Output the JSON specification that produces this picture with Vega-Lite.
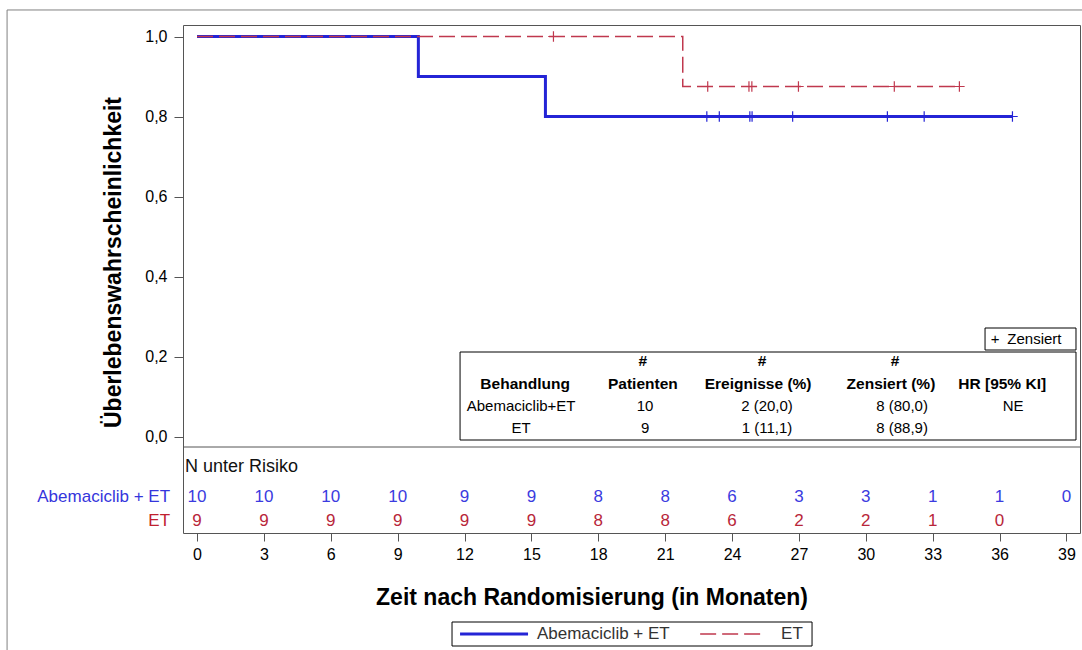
{
  "$schema": "https://vega.github.io/schema/vega-lite/v6.json",
  "width": 897,
  "height": 508,
  "autosize": {"type": "none"},
  "padding": {"left": 183, "top": 25, "right": 2, "bottom": 117},
  "background": "white",
  "config": {
    "font": "Liberation Sans",
    "view": {"stroke": "#555555", "strokeWidth": 1}
  },
  "data": {"values": [{}]},
  "datasets": {
    "km": [
      {"group": "Abemaciclib + ET", "month": 0, "surv": 1.0},
      {"group": "Abemaciclib + ET", "month": 9.93, "surv": 0.9},
      {"group": "Abemaciclib + ET", "month": 15.63, "surv": 0.8},
      {"group": "Abemaciclib + ET", "month": 36.6, "surv": 0.8},
      {"group": "ET", "month": 0, "surv": 1.0},
      {"group": "ET", "month": 21.79, "surv": 0.875},
      {"group": "ET", "month": 34.2, "surv": 0.875}
    ],
    "censor": [
      {"group": "Abemaciclib + ET", "month": 22.87, "surv": 0.8},
      {"group": "Abemaciclib + ET", "month": 23.43, "surv": 0.8},
      {"group": "Abemaciclib + ET", "month": 24.8, "surv": 0.8},
      {"group": "Abemaciclib + ET", "month": 24.9, "surv": 0.8},
      {"group": "Abemaciclib + ET", "month": 26.72, "surv": 0.8},
      {"group": "Abemaciclib + ET", "month": 30.97, "surv": 0.8},
      {"group": "Abemaciclib + ET", "month": 32.62, "surv": 0.8},
      {"group": "Abemaciclib + ET", "month": 36.58, "surv": 0.8},
      {"group": "ET", "month": 15.99, "surv": 1.0},
      {"group": "ET", "month": 22.91, "surv": 0.875},
      {"group": "ET", "month": 24.76, "surv": 0.875},
      {"group": "ET", "month": 24.89, "surv": 0.875},
      {"group": "ET", "month": 26.98, "surv": 0.875},
      {"group": "ET", "month": 31.28, "surv": 0.875},
      {"group": "ET", "month": 34.2, "surv": 0.875}
    ],
    "risk": [
      {"group": "Abemaciclib + ET", "month": 0, "n": "10"},
      {"group": "Abemaciclib + ET", "month": 3, "n": "10"},
      {"group": "Abemaciclib + ET", "month": 6, "n": "10"},
      {"group": "Abemaciclib + ET", "month": 9, "n": "10"},
      {"group": "Abemaciclib + ET", "month": 12, "n": "9"},
      {"group": "Abemaciclib + ET", "month": 15, "n": "9"},
      {"group": "Abemaciclib + ET", "month": 18, "n": "8"},
      {"group": "Abemaciclib + ET", "month": 21, "n": "8"},
      {"group": "Abemaciclib + ET", "month": 24, "n": "6"},
      {"group": "Abemaciclib + ET", "month": 27, "n": "3"},
      {"group": "Abemaciclib + ET", "month": 30, "n": "3"},
      {"group": "Abemaciclib + ET", "month": 33, "n": "1"},
      {"group": "Abemaciclib + ET", "month": 36, "n": "1"},
      {"group": "Abemaciclib + ET", "month": 39, "n": "0"},
      {"group": "ET", "month": 0, "n": "9"},
      {"group": "ET", "month": 3, "n": "9"},
      {"group": "ET", "month": 6, "n": "9"},
      {"group": "ET", "month": 9, "n": "9"},
      {"group": "ET", "month": 12, "n": "9"},
      {"group": "ET", "month": 15, "n": "9"},
      {"group": "ET", "month": 18, "n": "8"},
      {"group": "ET", "month": 21, "n": "8"},
      {"group": "ET", "month": 24, "n": "6"},
      {"group": "ET", "month": 27, "n": "2"},
      {"group": "ET", "month": 30, "n": "2"},
      {"group": "ET", "month": 33, "n": "1"},
      {"group": "ET", "month": 36, "n": "0"}
    ],
    "stats": [
      {"group": "Abemaciclib+ET", "patients": "10", "events": "2 (20,0)", "censored": "8 (80,0)", "hr": "NE"},
      {"group": "ET", "patients": "9", "events": "1 (11,1)", "censored": "8 (88,9)", "hr": ""}
    ]
  },
  "layer": [
    {
      "mark": {"type": "rect", "filled": false, "color": "#808080", "strokeWidth": 1},
      "encoding": {
        "x": {
          "datum": -8.52, "type": "quantitative",
          "scale": {"domain": [-0.628, 39.61], "nice": false, "zero": false},
          "axis": {
            "values": [0, 3, 6, 9, 12, 15, 18, 21, 24, 27, 30, 33, 36, 39],
            "title": "Zeit nach Randomisierung (in Monaten)",
            "grid": false, "domain": false,
            "tickSize": 8, "tickColor": "#555555",
            "labelFontSize": 16, "labelColor": "#000000", "labelPadding": 5,
            "titleFontSize": 23, "titleFontWeight": "bold", "titleColor": "#000000",
            "titleX": 408.5, "titleY": 64, "titleBaseline": "middle", "titleAlign": "center"
          }
        },
        "x2": {"datum": 41.5},
        "y": {
          "datum": 1.0663, "type": "quantitative",
          "scale": {"domain": [-0.24125, 1.02875], "nice": false, "zero": false},
          "axis": {
            "values": [0, 0.2, 0.4, 0.6, 0.8, 1],
            "labelExpr": "replace(format(datum.value, '.1f'), '.', ',')",
            "title": "Überlebenswahrscheinlichkeit",
            "grid": false, "domain": false,
            "tickSize": 9, "tickColor": "#555555",
            "labelFontSize": 16, "labelColor": "#000000", "labelPadding": 7,
            "titleFontSize": 23, "titleFontWeight": "bold", "titleColor": "#000000",
            "titleX": -70, "titleY": 237, "titleBaseline": "middle", "titleAlign": "center", "titleAngle": 270
          }
        },
        "y2": {"datum": -0.75}
      }
    },
    {
      "mark": {"type": "rule", "color": "#555555", "strokeWidth": 1},
      "encoding": {"y": {"datum": -0.02625, "type": "quantitative"}}
    },
    {
      "data": {"name": "km"},
      "transform": [{"filter": "datum.group === 'Abemaciclib + ET'"}],
      "mark": {"type": "line", "interpolate": "step-after", "color": "#2424d6", "strokeWidth": 3},
      "encoding": {
        "x": {"field": "month", "type": "quantitative"},
        "y": {"field": "surv", "type": "quantitative"}
      }
    },
    {
      "data": {"name": "km"},
      "transform": [{"filter": "datum.group === 'ET'"}],
      "mark": {"type": "line", "interpolate": "step-after", "color": "#c0384e", "strokeWidth": 1.5, "strokeDash": [16, 6]},
      "encoding": {
        "x": {"field": "month", "type": "quantitative"},
        "y": {"field": "surv", "type": "quantitative"}
      }
    },
    {
      "data": {"name": "censor"},
      "transform": [{"filter": "datum.group === 'Abemaciclib + ET'"}],
      "mark": {"type": "point", "shape": "M-1,0L1,0M0,-1L0,1", "filled": false, "color": "#2424d6", "size": 110, "strokeWidth": 1.2, "opacity": 1},
      "encoding": {
        "x": {"field": "month", "type": "quantitative"},
        "y": {"field": "surv", "type": "quantitative"}
      }
    },
    {
      "data": {"name": "censor"},
      "transform": [{"filter": "datum.group === 'ET'"}],
      "mark": {"type": "point", "shape": "M-1,0L1,0M0,-1L0,1", "filled": false, "color": "#c0384e", "size": 110, "strokeWidth": 1.2, "opacity": 1},
      "encoding": {
        "x": {"field": "month", "type": "quantitative"},
        "y": {"field": "surv", "type": "quantitative"}
      }
    },
    {
      "mark": {"type": "text", "text": "N unter Risiko", "fontSize": 18, "color": "#111111", "align": "left", "baseline": "middle"},
      "encoding": {"x": {"datum": -0.54}, "y": {"datum": -0.07625}}
    },
    {
      "data": {"name": "risk"},
      "transform": [{"filter": "datum.group === 'Abemaciclib + ET'"}],
      "mark": {"type": "text", "fontSize": 17, "color": "#3b3be0", "align": "center", "baseline": "middle"},
      "encoding": {
        "x": {"field": "month", "type": "quantitative"},
        "y": {"datum": -0.15125},
        "text": {"field": "n", "type": "nominal"}
      }
    },
    {
      "data": {"name": "risk"},
      "transform": [{"filter": "datum.group === 'ET'"}],
      "mark": {"type": "text", "fontSize": 17, "color": "#b8263a", "align": "center", "baseline": "middle"},
      "encoding": {
        "x": {"field": "month", "type": "quantitative"},
        "y": {"datum": -0.21125},
        "text": {"field": "n", "type": "nominal"}
      }
    },
    {
      "mark": {"type": "text", "text": "Abemaciclib + ET", "fontSize": 17, "color": "#3535dc", "align": "right", "baseline": "middle"},
      "encoding": {"x": {"datum": -1.21}, "y": {"datum": -0.15125}}
    },
    {
      "mark": {"type": "text", "text": "ET", "fontSize": 17, "color": "#c0202e", "align": "right", "baseline": "middle"},
      "encoding": {"x": {"datum": -1.21}, "y": {"datum": -0.21125}}
    },
    {
      "mark": {"type": "rect", "filled": false, "color": "#000000", "strokeWidth": 1},
      "encoding": {"x": {"datum": 11.8}, "x2": {"datum": 39.43}, "y": {"datum": 0.21125}, "y2": {"datum": -0.00875}}
    },
    {
      "mark": {"type": "rect", "filled": false, "color": "#000000", "strokeWidth": 1},
      "encoding": {"x": {"datum": 35.35}, "x2": {"datum": 39.43}, "y": {"datum": 0.27125}, "y2": {"datum": 0.21625}}
    },
    {
      "mark": {"type": "text", "text": "+", "fontSize": 15, "color": "#000000", "align": "center", "baseline": "middle"},
      "encoding": {"x": {"datum": 35.8}, "y": {"datum": 0.24375}}
    },
    {
      "mark": {"type": "text", "text": "Zensiert", "fontSize": 15, "color": "#000000", "align": "left", "baseline": "middle"},
      "encoding": {"x": {"datum": 36.35}, "y": {"datum": 0.24375}}
    },
    {
      "mark": {"type": "text", "text": "#", "fontSize": 15.5, "fontWeight": "bold", "color": "#000000", "align": "center", "baseline": "middle"},
      "encoding": {"x": {"datum": 20.0}, "y": {"datum": 0.18875}}
    },
    {
      "mark": {"type": "text", "text": "#", "fontSize": 15.5, "fontWeight": "bold", "color": "#000000", "align": "center", "baseline": "middle"},
      "encoding": {"x": {"datum": 25.35}, "y": {"datum": 0.18875}}
    },
    {
      "mark": {"type": "text", "text": "#", "fontSize": 15.5, "fontWeight": "bold", "color": "#000000", "align": "center", "baseline": "middle"},
      "encoding": {"x": {"datum": 31.31}, "y": {"datum": 0.18875}}
    },
    {
      "mark": {"type": "text", "text": "Behandlung", "fontSize": 15.5, "fontWeight": "bold", "color": "#000000", "align": "center", "baseline": "middle"},
      "encoding": {"x": {"datum": 14.72}, "y": {"datum": 0.13125}}
    },
    {
      "mark": {"type": "text", "text": "Patienten", "fontSize": 15.5, "fontWeight": "bold", "color": "#000000", "align": "center", "baseline": "middle"},
      "encoding": {"x": {"datum": 20.0}, "y": {"datum": 0.13125}}
    },
    {
      "mark": {"type": "text", "text": "Ereignisse (%)", "fontSize": 15.5, "fontWeight": "bold", "color": "#000000", "align": "center", "baseline": "middle"},
      "encoding": {"x": {"datum": 25.17}, "y": {"datum": 0.13125}}
    },
    {
      "mark": {"type": "text", "text": "Zensiert (%)", "fontSize": 15.5, "fontWeight": "bold", "color": "#000000", "align": "center", "baseline": "middle"},
      "encoding": {"x": {"datum": 31.13}, "y": {"datum": 0.13125}}
    },
    {
      "mark": {"type": "text", "text": "HR [95% KI]", "fontSize": 15.5, "fontWeight": "bold", "color": "#000000", "align": "center", "baseline": "middle"},
      "encoding": {"x": {"datum": 36.12}, "y": {"datum": 0.13125}}
    },
    {
      "data": {"name": "stats"},
      "transform": [{"filter": "datum.group === 'Abemaciclib+ET'"}],
      "mark": {"type": "text", "fontSize": 15, "color": "#000000", "align": "center", "baseline": "middle"},
      "encoding": {"x": {"datum": 14.54}, "y": {"datum": 0.07625}, "text": {"field": "group", "type": "nominal"}}
    },
    {
      "data": {"name": "stats"},
      "transform": [{"filter": "datum.group === 'ET'"}],
      "mark": {"type": "text", "fontSize": 15, "color": "#000000", "align": "center", "baseline": "middle"},
      "encoding": {"x": {"datum": 14.54}, "y": {"datum": 0.02125}, "text": {"field": "group", "type": "nominal"}}
    },
    {
      "data": {"name": "stats"},
      "transform": [{"filter": "datum.group === 'Abemaciclib+ET'"}],
      "mark": {"type": "text", "fontSize": 15, "color": "#000000", "align": "center", "baseline": "middle"},
      "encoding": {"x": {"datum": 20.1}, "y": {"datum": 0.07625}, "text": {"field": "patients", "type": "nominal"}}
    },
    {
      "data": {"name": "stats"},
      "transform": [{"filter": "datum.group === 'ET'"}],
      "mark": {"type": "text", "fontSize": 15, "color": "#000000", "align": "center", "baseline": "middle"},
      "encoding": {"x": {"datum": 20.1}, "y": {"datum": 0.02125}, "text": {"field": "patients", "type": "nominal"}}
    },
    {
      "data": {"name": "stats"},
      "transform": [{"filter": "datum.group === 'Abemaciclib+ET'"}],
      "mark": {"type": "text", "fontSize": 15, "color": "#000000", "align": "center", "baseline": "middle"},
      "encoding": {"x": {"datum": 25.57}, "y": {"datum": 0.07625}, "text": {"field": "events", "type": "nominal"}}
    },
    {
      "data": {"name": "stats"},
      "transform": [{"filter": "datum.group === 'ET'"}],
      "mark": {"type": "text", "fontSize": 15, "color": "#000000", "align": "center", "baseline": "middle"},
      "encoding": {"x": {"datum": 25.57}, "y": {"datum": 0.02125}, "text": {"field": "events", "type": "nominal"}}
    },
    {
      "data": {"name": "stats"},
      "transform": [{"filter": "datum.group === 'Abemaciclib+ET'"}],
      "mark": {"type": "text", "fontSize": 15, "color": "#000000", "align": "center", "baseline": "middle"},
      "encoding": {"x": {"datum": 31.63}, "y": {"datum": 0.07625}, "text": {"field": "censored", "type": "nominal"}}
    },
    {
      "data": {"name": "stats"},
      "transform": [{"filter": "datum.group === 'ET'"}],
      "mark": {"type": "text", "fontSize": 15, "color": "#000000", "align": "center", "baseline": "middle"},
      "encoding": {"x": {"datum": 31.63}, "y": {"datum": 0.02125}, "text": {"field": "censored", "type": "nominal"}}
    },
    {
      "data": {"name": "stats"},
      "transform": [{"filter": "datum.group === 'Abemaciclib+ET'"}],
      "mark": {"type": "text", "fontSize": 15, "color": "#000000", "align": "center", "baseline": "middle"},
      "encoding": {"x": {"datum": 36.61}, "y": {"datum": 0.07625}, "text": {"field": "hr", "type": "nominal"}}
    },
    {
      "mark": {"type": "rect", "filled": false, "color": "#000000", "strokeWidth": 1},
      "encoding": {"x": {"datum": 11.44}, "x2": {"datum": 27.59}, "y": {"datum": -0.46375}, "y2": {"datum": -0.52375}}
    },
    {
      "mark": {"type": "rule", "color": "#2424d6", "strokeWidth": 3},
      "encoding": {"x": {"datum": 11.8}, "x2": {"datum": 14.85}, "y": {"datum": -0.49375}}
    },
    {
      "mark": {"type": "text", "text": "Abemaciclib + ET", "fontSize": 17, "color": "#333333", "align": "left", "baseline": "middle"},
      "encoding": {"x": {"datum": 15.25}, "y": {"datum": -0.49375}}
    },
    {
      "mark": {"type": "rule", "color": "#c0384e", "strokeWidth": 1.5, "strokeDash": [16, 6]},
      "encoding": {"x": {"datum": 22.57}, "x2": {"datum": 25.48}, "y": {"datum": -0.49375}}
    },
    {
      "mark": {"type": "text", "text": "ET", "fontSize": 17, "color": "#333333", "align": "left", "baseline": "middle"},
      "encoding": {"x": {"datum": 26.2}, "y": {"datum": -0.49375}}
    }
  ]
}
